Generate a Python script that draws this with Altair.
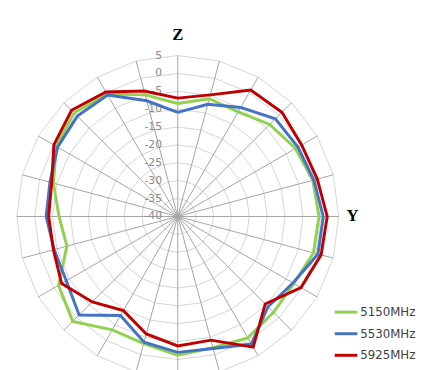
import altair as alt
import pandas as pd

# ---- data (dB), angles clockwise from top ----
angles = list(range(0, 360, 15))
series_names = ["5150MHz", "5530MHz", "5925MHz"]
s5150 = [-8.4, -5.9, -6.2, -3.6, -2.0, -0.9, -0.5, -0.7, -2.5, -2.1, -0.8, -2.0,
         -1.2, -3.2, -3.4, 1.5, -1.5, -7.9, -6.8, -4.0, -0.8, 1.0, -0.5, -4.8]
s5530 = [-10.9, -7.5, -4.8, -1.4, -1.2, -0.6, 0.7, 0.6, -2.8, -4.3, 1.2, -1.8,
         -2.0, -3.6, -8.0, -1.0, -4.0, -4.2, -3.2, -3.0, -1.2, -0.3, -0.8, -6.5]
s5925 = [-6.9, -4.8, 0.8, 1.2, 0.0, 0.4, 1.8, 1.5, -0.2, -5.4, 2.2, -4.2,
         -3.8, -6.0, -9.6, -6.2, -2.5, -4.0, -3.9, -3.5, 0.0, 2.0, 0.2, -3.7]
series_colors = ["#92d050", "#4472c4", "#c00000"]

r_min = -40
r_max = 5
ring_levels = [-35, -30, -25, -20, -15, -10, -5, 0, 5]
tick_labels = [5, 0, -5, -10, -15, -20, -25, -30, -35, -40]
axis_letters = ["Z", "Y"]
axis_letter_angles = [0, 90]

# ---- tables built from the arrays ----
rows = []
for name, vals in zip(series_names, [s5150, s5530, s5925]):
    for i, (a, v) in enumerate(zip(angles + [360], vals + vals[:1])):
        rows.append({"series": name, "angle": a, "value": v, "idx": i})
series_df = pd.DataFrame(rows)

ring_rows = []
for lv in ring_levels:
    for i, a in enumerate(angles + [360]):
        ring_rows.append({"level": lv, "angle": a, "value": lv, "idx": i})
ring_df = pd.DataFrame(ring_rows)

spoke_df = pd.DataFrame({"angle": angles, "value": [r_max] * len(angles)})
label_df = pd.DataFrame({"value": tick_labels, "angle": [0] * len(tick_labels),
                         "label": [str(t) for t in tick_labels]})
letters_df = pd.DataFrame({"name": axis_letters, "angle": axis_letter_angles,
                           "value": [r_max] * len(axis_letters)})

span = r_max - r_min
xs = alt.Scale(domain=[-span, span], range=[9, 337], zero=False, nice=False)
ys = alt.Scale(domain=[-span, span], range=[373, 45], zero=False, nice=False)


def polarize(ch):
    return ch.transform_calculate(
        px=f"(datum.value - ({r_min})) * sin(datum.angle * PI / 180)",
        py=f"(datum.value - ({r_min})) * cos(datum.angle * PI / 180)",
        ox="0", oy="0",
    )


X = alt.X("px:Q", scale=xs, axis=None)
Y = alt.Y("py:Q", scale=ys, axis=None)

rings = polarize(alt.Chart(ring_df)).mark_line(stroke="#d4d4d4", strokeWidth=1).encode(
    x=X, y=Y, detail="level:N", order="idx:Q",
)

spokes = polarize(alt.Chart(spoke_df)).mark_rule(stroke="#a3a3a3", strokeWidth=1).encode(
    x=alt.X("ox:Q", scale=xs, axis=None),
    y=alt.Y("oy:Q", scale=ys, axis=None),
    x2="px:Q",
    y2="py:Q",
)

labels = polarize(alt.Chart(label_df)).mark_text(
    align="right", baseline="middle", dx=-16, font="DejaVu Sans", fontSize=11, color="#8a8a8a"
).encode(x=X, y=Y, text="label:N")

lines = polarize(alt.Chart(series_df)).mark_line(strokeWidth=3).encode(
    x=X, y=Y,
    color=alt.Color(
        "series:N",
        scale=alt.Scale(domain=series_names, range=series_colors),
        legend=alt.Legend(
            title=None, orient="none", legendX=331, legendY=293,
            symbolType="stroke", symbolStrokeWidth=3, symbolSize=530,
            labelFont="DejaVu Sans", labelFontSize=12, labelColor="#404040",
            labelOffset=1, rowPadding=2,
        ),
    ),
    order="idx:Q",
)

zlab = polarize(alt.Chart(letters_df[letters_df.name == "Z"])).mark_text(
    font="Liberation Serif", fontSize=17, fontWeight="bold", color="#000000",
    align="center", baseline="middle", dy=-21,
).encode(x=X, y=Y, text="name:N")
ylab = polarize(alt.Chart(letters_df[letters_df.name == "Y"])).mark_text(
    font="Liberation Serif", fontSize=17, fontWeight="bold", color="#000000",
    align="left", baseline="middle", dx=8,
).encode(x=X, y=Y, text="name:N")

chart = alt.layer(rings, spokes, labels, lines, zlab, ylab).properties(
    width=425, height=362, padding=0,
    autosize=alt.AutoSizeParams(type="none"),
).configure_view(stroke=None)

chart.save("out.html", embed_options={"renderer": "svg", "actions": False})
